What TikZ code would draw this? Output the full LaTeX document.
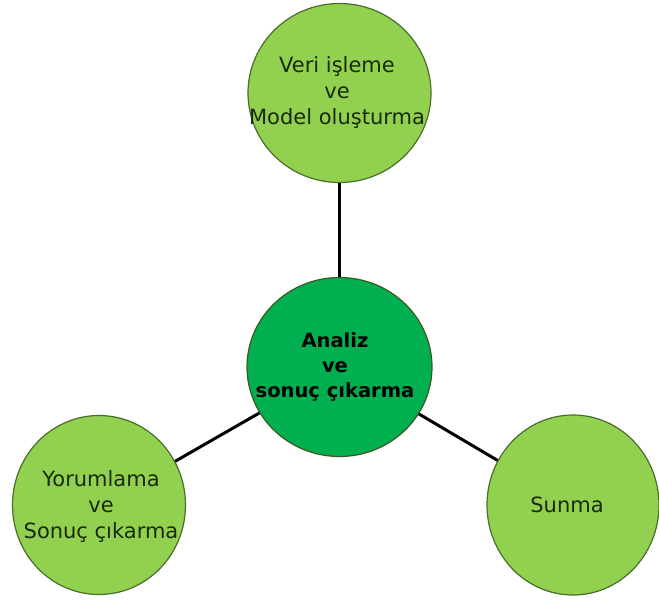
\documentclass[tikz,border=0pt]{standalone}
\usepackage{fontspec}
\setmainfont{DejaVu Sans}
\usetikzlibrary{shapes.geometric}
\definecolor{lightg}{HTML}{92D050}
\definecolor{darkg}{HTML}{00B050}
\definecolor{rimg}{HTML}{4A6E2A}
\definecolor{txtg}{HTML}{1A2A0C}
\tikzset{
  bubble/.style={ellipse, draw=rimg, line width=1.2pt, inner sep=0pt, fill=lightg},
  hub/.style={bubble, fill=darkg, draw=rimg!80!black},
  lbl/.style={align=center, text=txtg, font=\fontsize{21}{26}\selectfont, inner sep=0pt},
  hublbl/.style={align=center, text=black, font=\fontsize{19.5}{25}\selectfont\bfseries, inner sep=0pt},
  link/.style={line width=3pt, black}
}
\begin{document}
\begin{tikzpicture}[x=1pt,y=-1pt]
\useasboundingbox (0,0) rectangle (659,603);
\node[bubble, minimum width=183pt, minimum height=179pt] (top) at (339.5,93) {};
\node[hub, minimum width=185pt, minimum height=179pt] (hub) at (339.5,367) {};
\node[bubble, minimum width=173pt, minimum height=179pt] (left) at (99,505) {};
\node[bubble, minimum width=172pt, minimum height=180pt] (right) at (573,505) {};
\draw[link] (hub) -- (top);
\draw[link] (hub) -- (left);
\draw[link] (hub) -- (right);
\node[lbl] (ttop) at (337,93) {Veri işleme\\ve\\Model oluşturma};
\node[hublbl] (thub) at (335,367) {Analiz\\ve\\sonuç çıkarma};
\node[lbl] (tleft) at (101,507) {Yorumlama\\ve\\Sonuç çıkarma};
\node[lbl] (tright) at (567,505) {Sunma};
\end{tikzpicture}
\end{document}
